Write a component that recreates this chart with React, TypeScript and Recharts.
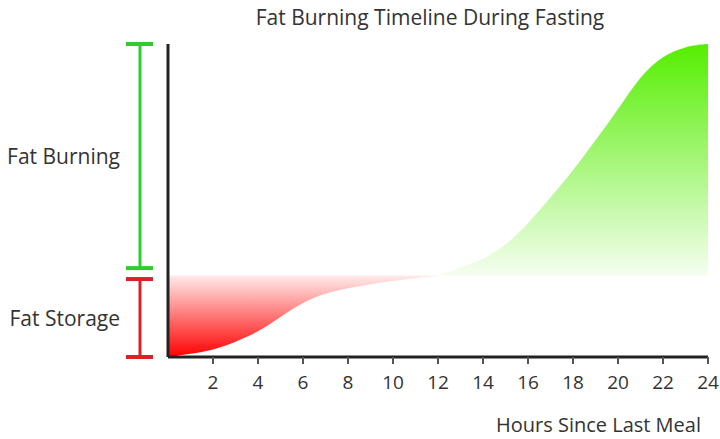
import React from 'react';
import { AreaChart, Area, XAxis, YAxis, ReferenceLine, Label } from 'recharts';

// hours since last meal and the two halves of the curve (0 = bottom, 100 = top)
const hours = [0, 1, 2, 3, 4, 5, 6, 7, 8, 9, 10, 11, 12, 13, 14, 15, 16, 17, 18, 19, 20, 21, 22, 23, 24];
const storageLevel = [0, 1, 2.2, 4.8, 8, 12.8, 17.6, 20.4, 22, 23.3, 24.3, 25.2, 26];
const burningLevel = [26, 28.6, 31, 35.6, 42.5, 51, 59.5, 69.2, 79, 90, 96.3, 99.3, 100];
const hourTicks = [2, 4, 6, 8, 10, 12, 14, 16, 18, 20, 22, 24];
const threshold = 26;
const storageRange = [0, 24.9];
const burningRange = [28.4, 100];

const data = hours.map((h, i) => ({
    hour: h,
    storage: i <= 12 ? storageLevel[i] : null,
    burning: i >= 12 ? burningLevel[i - 12] : null,
}));

const FONT = '"Open Sans", "Noto Sans", sans-serif';

// I-beam bracket drawn left of the y axis, with its label
const bracket = (color: string, text: string) => (props: any) => {
    const { x1, y1, y2 } = props;
    const x = x1 - 28;
    const top = Math.min(y1, y2);
    const bottom = Math.max(y1, y2);
    return (
        <g>
            <line x1={x} x2={x} y1={top} y2={bottom} stroke={color} strokeWidth={3} />
            <line x1={x - 14} x2={x + 13} y1={top} y2={top} stroke={color} strokeWidth={4} />
            <line x1={x - 14} x2={x + 13} y1={bottom} y2={bottom} stroke={color} strokeWidth={4} />
            <text
                x={x - 20}
                y={(top + bottom) / 2}
                textAnchor="end"
                dominantBaseline="central"
                fill="#333"
                fontSize={21}
                fontFamily={FONT}
            >
                {text}
            </text>
        </g>
    );
};

const App: React.FC = () => {
    return (
        <div style={{ position: 'absolute', left: 0, top: 0, width: 720, height: 439, background: '#fff' }}>
            <svg width={720} height={40} style={{ position: 'absolute', left: 0, top: 0 }}>
                <text x={430} y={25} textAnchor="middle" fill="#333" fontSize={21} fontFamily={FONT}>
                    Fat Burning Timeline During Fasting
                </text>
            </svg>
            <AreaChart
                width={720}
                height={439}
                data={data}
                margin={{ top: 44, right: 12, left: 0, bottom: 0 }}
                style={{ fontFamily: FONT }}
            >
                <defs>
                    <linearGradient id="storageFill" x1="0" y1="0" x2="0" y2="1">
                        <stop offset="0%" stopColor="#ff0000" stopOpacity={0.08} />
                        <stop offset="100%" stopColor="#ff0000" stopOpacity={1} />
                    </linearGradient>
                    <linearGradient id="burningFill" x1="0" y1="0" x2="0" y2="1">
                        <stop offset="0%" stopColor="#55ee00" stopOpacity={1} />
                        <stop offset="100%" stopColor="#55ee00" stopOpacity={0.06} />
                    </linearGradient>
                </defs>
                <XAxis
                    dataKey="hour"
                    type="number"
                    domain={[0, 24]}
                    ticks={hourTicks}
                    height={82}
                    axisLine={{ stroke: '#222', strokeWidth: 3 }}
                    tickLine={{ stroke: '#555', strokeWidth: 2 }}
                    tickSize={7}
                    tickMargin={12}
                    tick={{ fill: '#333', fontSize: 19 }}
                >
                    <Label
                        value="Hours Since Last Meal"
                        position="insideBottomRight"
                        offset={7}
                        fill="#333"
                        fontSize={20}
                    />
                </XAxis>
                <YAxis
                    domain={[0, 100]}
                    width={168}
                    tick={false}
                    tickLine={false}
                    axisLine={{ stroke: '#222', strokeWidth: 3 }}
                />
                <Area
                    type="basis"
                    dataKey="storage"
                    baseValue={threshold}
                    stroke="none"
                    fill="url(#storageFill)"
                    fillOpacity={1}
                    isAnimationActive={false}
                />
                <Area
                    type="basis"
                    dataKey="burning"
                    baseValue={threshold}
                    stroke="none"
                    fill="url(#burningFill)"
                    fillOpacity={1}
                    isAnimationActive={false}
                />
                <ReferenceLine
                    segment={[{ x: 0, y: burningRange[0] }, { x: 0, y: burningRange[1] }]}
                    ifOverflow="visible"
                    shape={bracket('#2ecc2e', 'Fat Burning')}
                />
                <ReferenceLine
                    segment={[{ x: 0, y: storageRange[0] }, { x: 0, y: storageRange[1] }]}
                    ifOverflow="visible"
                    shape={bracket('#d7222a', 'Fat Storage')}
                />
            </AreaChart>
        </div>
    );
};

export default App;
